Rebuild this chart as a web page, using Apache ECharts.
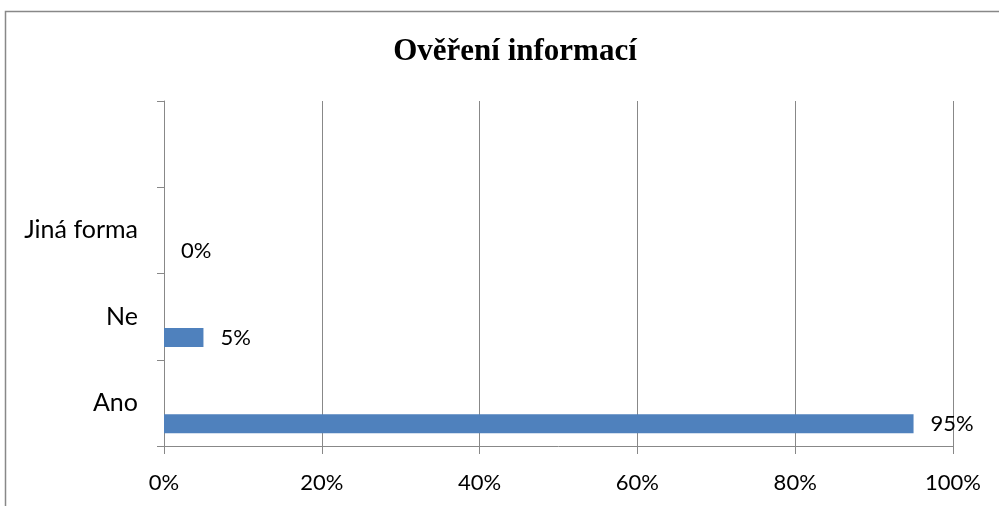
<!DOCTYPE html>
<html>
<head>
<meta charset="utf-8">
<title>Ověření informací</title>
<script src="https://cdn.jsdelivr.net/npm/echarts@6/dist/echarts.min.js"></script>
<style>
  html, body { margin: 0; padding: 0; background: #fff; }
  #main { width: 999px; height: 506px; }
</style>
</head>
<body>
<div id="main"></div>
<script>
// kategorie odspodu nahoru (posledni prazdna)
var categories = ['Ano', 'Ne', 'Jiná forma', ''];
var values = [95, 5, 0, null];
var xTicks = [0, 20, 40, 60, 80, 100];

var chart = echarts.init(document.getElementById('main'));
var font = 'Lato, "Open Sans", sans-serif';

var option = {
  animation: false,
  backgroundColor: '#fff',
  title: {
    text: 'Ověření informací',
    left: 510,
    top: 31,
    textAlign: 'center',
    textStyle: { fontFamily: '"Liberation Serif", serif', fontWeight: 'bold', fontSize: 31, color: '#000' }
  },
  graphic: [{
    type: 'rect',
    shape: { x: 5.5, y: 11.5, width: 1100, height: 600 },
    style: { fill: 'none', stroke: '#888', lineWidth: 1.5 }
  }],
  grid: { left: 164, right: 46, top: 101, bottom: 60 },
  xAxis: {
    type: 'value',
    min: xTicks[0],
    max: xTicks[xTicks.length - 1],
    interval: 20,
    axisLine: { show: true, lineStyle: { color: '#888' } },
    axisTick: { show: true, length: 8, lineStyle: { color: '#888' } },
    splitLine: { show: true, lineStyle: { color: '#888', width: 1 } },
    axisLabel: { formatter: '{value}%', margin: 26, fontFamily: font, fontSize: 22, color: '#000' }
  },
  yAxis: {
    type: 'category',
    data: categories,
    axisLine: { show: true, lineStyle: { color: '#888' } },
    axisTick: { show: true, length: 7, lineStyle: { color: '#888' } },
    axisLabel: { margin: 26, fontFamily: font, fontSize: 25, color: '#000' }
  },
  series: [
    {
      type: 'bar',
      data: [null, null, null, null],
      barWidth: 19,
      barGap: '121%',
      silent: true
    },
    {
      type: 'bar',
      data: values,
      barWidth: 19,
      barGap: '121%',
      itemStyle: { color: '#4F81BD' },
      label: {
        show: true,
        position: 'right',
        distance: 17,
        formatter: '{c}%',
        fontFamily: font,
        fontSize: 22,
        color: '#000'
      }
    }
  ]
};

chart.setOption(option);
</script>
</body>
</html>
